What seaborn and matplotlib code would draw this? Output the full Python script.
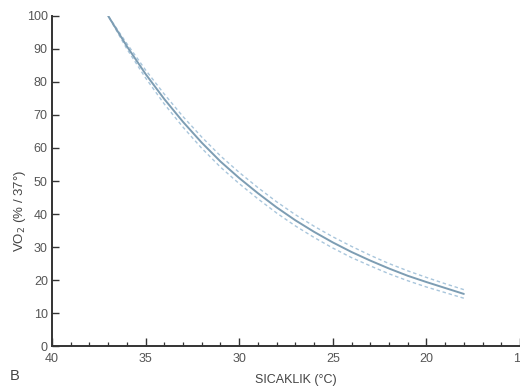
import numpy as np
import pandas as pd
import matplotlib
matplotlib.use("Agg")
import matplotlib.pyplot as plt
import seaborn as sns
from matplotlib.ticker import MultipleLocator

# Data
temp = [37, 36, 35, 34, 33, 32, 31, 30, 29, 28, 27, 26, 25, 24, 23, 22, 21, 20, 19, 18]
vo2 = [100, 90.8, 82.4, 74.8, 67.9, 61.6, 55.9, 50.9, 46.3, 42.0, 38.1, 34.6, 31.4,
       28.5, 25.9, 23.5, 21.3, 19.4, 17.6, 15.8]
vo2_upper = [100, 91.6, 83.6, 76.3, 69.5, 63.3, 57.6, 52.6, 48.0, 43.7, 39.8, 36.3, 33.1,
             30.2, 27.5, 25.0, 22.8, 20.8, 18.9, 17.1]
vo2_lower = [100, 90.0, 81.2, 73.3, 66.3, 59.9, 54.2, 49.2, 44.6, 40.3, 36.4, 32.9, 29.7,
             26.8, 24.3, 21.9, 19.8, 17.9, 16.2, 14.5]

x_ticks = [40, 35, 30, 25, 20, 15]
y_ticks = [0, 10, 20, 30, 40, 50, 60, 70, 80, 90, 100]

df = pd.DataFrame({"temp": temp, "vo2": vo2, "upper": vo2_upper, "lower": vo2_lower})

sns.set_theme(style="white")
plt.rcParams["font.family"] = ["Liberation Sans", "DejaVu Sans"]

fig = plt.figure(figsize=(5.2, 3.88), dpi=100)
ax = fig.add_axes([0.1, 0.108, 0.9, 0.851])

solid_c = "#7d9db3"
dash_c = "#a9c6dc"
sns.lineplot(data=df, x="temp", y="upper", ax=ax, color=dash_c, lw=1.0, linestyle=(0, (2.5, 2)))
sns.lineplot(data=df, x="temp", y="lower", ax=ax, color=dash_c, lw=1.0, linestyle=(0, (2.5, 2)))
sns.lineplot(data=df, x="temp", y="vo2", ax=ax, color=solid_c, lw=1.4)

ax.set_xlim(40, 15)
ax.set_ylim(0, 100)
ax.set_xticks(x_ticks)
ax.set_yticks(y_ticks)
ax.xaxis.set_minor_locator(MultipleLocator(1))

for s in ["top", "right"]:
    ax.spines[s].set_visible(False)
for s in ["left", "bottom"]:
    ax.spines[s].set_color("#333333")
    ax.spines[s].set_linewidth(1.4)

ax.tick_params(axis="both", which="major", direction="in", length=5, width=1.0,
               colors="#333333", labelsize=9, labelcolor="#555555")
ax.tick_params(axis="x", which="minor", direction="in", length=3, width=0.9, colors="#333333")
ax.tick_params(axis="x", which="major", pad=5, length=6)
ax.tick_params(axis="y", which="major", pad=3)
ax.tick_params(left=True, bottom=True, which="both")
ax.tick_params(axis="y", which="minor", left=False)

ax.set_xlabel("SICAKLIK (°C)", fontsize=9, color="#444444")
ax.xaxis.set_label_coords(0.52, -0.085)
ax.set_ylabel("VO$_2$ (% / 37°)", fontsize=9.5, color="#444444")
ax.yaxis.set_label_coords(-0.052, 0.41)

fig.text(0.018, 0.02, "B", fontsize=10.5, color="#444444")

fig.savefig("out.png", dpi=100)
